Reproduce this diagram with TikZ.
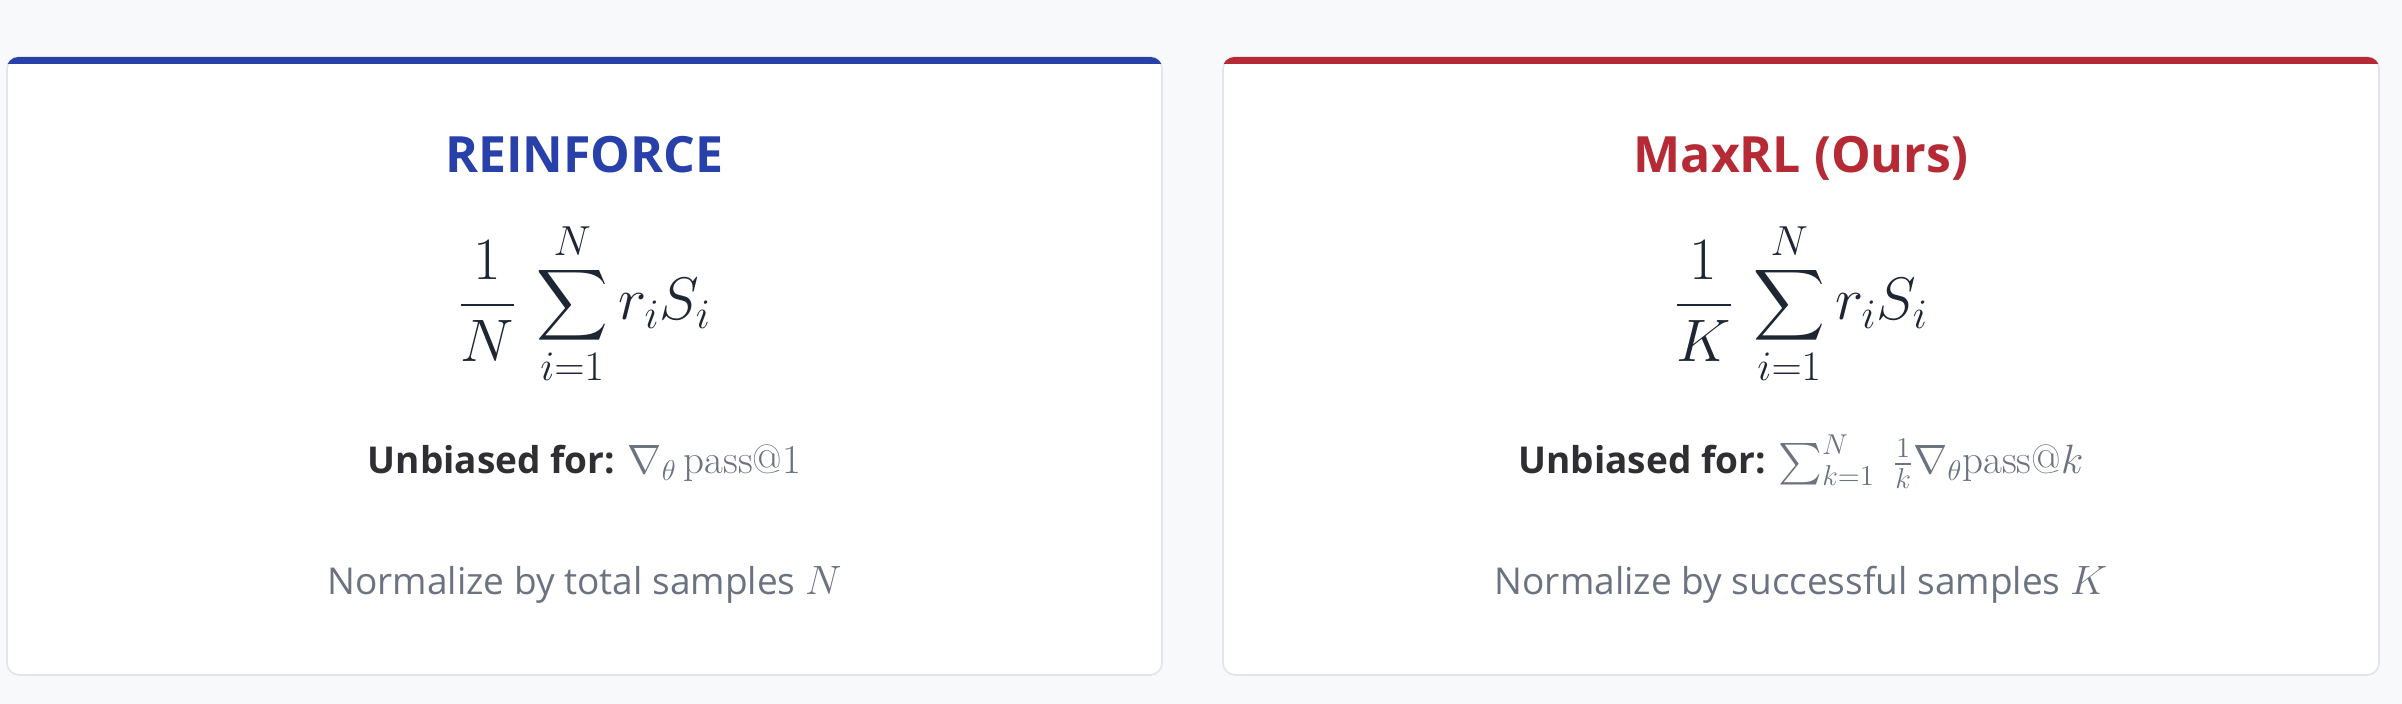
\RequirePackage{fix-cm}
\documentclass[tikz,border=0pt]{standalone}
\usepackage{amsmath}
\usepackage{fontspec}
\newfontfamily\osans{Open Sans}
\definecolor{bgc}{HTML}{F8F9FB}
\definecolor{borderc}{HTML}{E3E5EA}
\definecolor{bluec}{HTML}{2840AA}
\definecolor{redc}{HTML}{B62A36}
\definecolor{formc}{HTML}{1E2633}
\definecolor{labelc}{HTML}{2F2F33}
\definecolor{grayc}{HTML}{6B7280}
\newcommand{\mathsz}{\fontsize{20.5}{24}\selectfont}
\begin{document}
\begin{tikzpicture}[x=0.5pt,y=-0.5pt,
  cardbox/.style={draw=borderc,line width=0.8pt,fill=white,rounded corners=6pt},
  titletext/.style={font=\osans\bfseries\fontsize{25}{30}\selectfont,anchor=base},
  formtext/.style={font=\fontsize{30}{36}\selectfont,text=formc,anchor=base,inner sep=0pt},
  unbtext/.style={font=\osans\fontsize{18.5}{22}\selectfont,anchor=base,inner sep=0pt},
  normtext/.style={font=\osans\fontsize{18.5}{22}\selectfont,text=grayc,anchor=base,inner sep=0pt}]
\useasboundingbox (0,0) rectangle (2402,704);
\fill[bgc] (0,0) rectangle (2402,704);
% left card
\draw[cardbox] (7,57) rectangle (1162,675);
\begin{scope}
\clip[rounded corners=6pt] (6.5,57) rectangle (1162.5,675);
\fill[bluec] (0,57) rectangle (1170,64);
\end{scope}
% right card
\draw[cardbox] (1223,57) rectangle (2379,675);
\begin{scope}
\clip[rounded corners=6pt] (1222.5,57) rectangle (2379.5,675);
\fill[redc] (1215,57) rectangle (2390,64);
\end{scope}
% left texts
\node[titletext,text=bluec] (lt) at (584.5,173) {REINFORCE};
\node[formtext] (lf) at (584.5,320) {$\displaystyle \frac{1}{N}\,\sum_{i=1}^{N} r_i S_i$};
\node[unbtext] (lu) at (584.5,474) {{\color{labelc}\bfseries Unbiased for:} {\color{grayc}\mathsz$\nabla_\theta\,\mathrm{pass@1}$}};
\node[normtext] (ln) at (584.5,595) {Normalize by total samples {\mathsz$N$}};
% right texts
\node[titletext,text=redc] (rt) at (1801,173) {MaxRL (Ours)};
\node[formtext] (rf) at (1801,320) {$\displaystyle \frac{1}{K}\,\sum_{i=1}^{N} r_i S_i$};
\node[unbtext] (ru) at (1801,474) {{\color{labelc}\bfseries Unbiased for:} {\color{grayc}\mathsz$\sum_{k=1}^{N}\;\frac{1}{k}\nabla_\theta\mathrm{pass@}k$}};
\node[normtext] (rn) at (1801,595) {Normalize by successful samples {\mathsz$K$}};
\end{tikzpicture}
\end{document}
